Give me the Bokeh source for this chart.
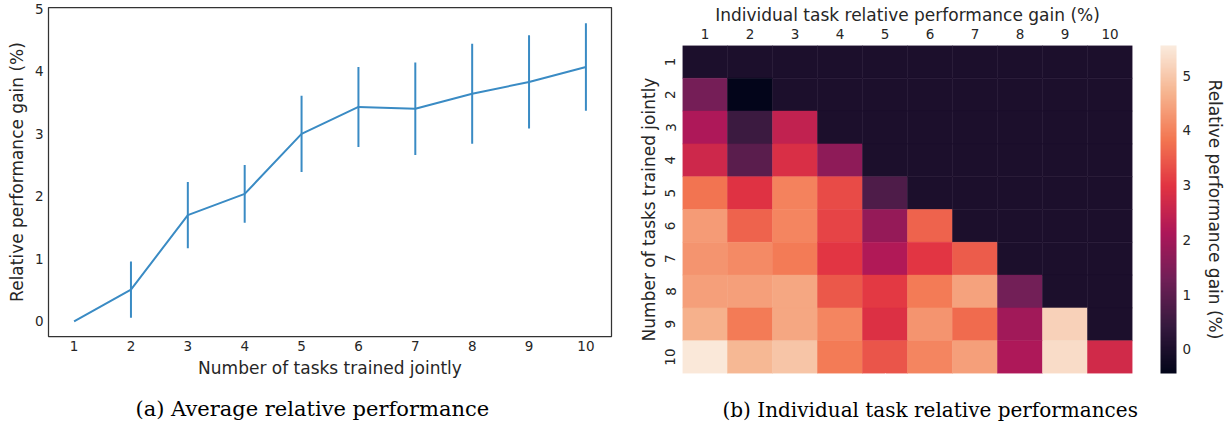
import numpy as np
from bokeh.plotting import figure
from bokeh.layouts import row
from bokeh.models import (Range1d, FixedTicker, LinearColorMapper, ColorBar,
                          LinearAxis, Title, ColumnDataSource)
from bokeh.transform import transform
from bokeh.embed import file_html
from bokeh.resources import INLINE

# ---------------- data ----------------
n_tasks = [1, 2, 3, 4, 5, 6, 7, 8, 9, 10]
avg_gain = [0.0, 0.51, 1.70, 2.04, 3.00, 3.43, 3.40, 3.64, 3.83, 4.07]
avg_err = [0.0, 0.45, 0.53, 0.46, 0.61, 0.64, 0.74, 0.80, 0.745, 0.70]

task_labels = [1, 2, 3, 4, 5, 6, 7, 8, 9, 10]
# rows: number of tasks trained jointly (1..10); columns: individual task (1..10)
gain_matrix = [
    [0.00, 0.00, 0.00, 0.00, 0.00, 0.00, 0.00, 0.00, 0.00, 0.00],
    [1.35, -0.44, 0.00, 0.00, 0.00, 0.00, 0.00, 0.00, 0.00, 0.00],
    [2.15, 0.50, 2.45, 0.00, 0.00, 0.00, 0.00, 0.00, 0.00, 0.00],
    [2.65, 0.95, 2.85, 1.70, 0.00, 0.00, 0.00, 0.00, 0.00, 0.00],
    [3.80, 2.95, 4.00, 3.30, 0.80, 0.00, 0.00, 0.00, 0.00, 0.00],
    [4.35, 3.60, 4.05, 3.20, 1.80, 3.60, 0.00, 0.00, 0.00, 0.00],
    [4.25, 4.10, 3.90, 3.00, 2.20, 3.00, 3.50, 0.00, 0.00, 0.00],
    [4.40, 4.40, 4.50, 3.45, 3.05, 3.90, 4.45, 1.30, 0.00, 0.00],
    [4.65, 3.90, 4.50, 4.05, 2.90, 4.25, 3.70, 1.96, 5.15, 0.00],
    [5.50, 4.75, 4.95, 3.90, 3.40, 4.05, 4.40, 2.15, 5.30, 2.70],
]
cbar_ticks = [0, 1, 2, 3, 4, 5]
cbar_low, cbar_high = -0.44, 5.55

# ---------------- style ----------------
TEXT = "#262626"
BLUE = "#3a8bc4"
FONT = "DejaVu Sans"
CAPFONT = "DejaVu Serif"

# rocket-like palette
stops = ["#03051a", "#35193e", "#701f57", "#ad1759", "#e13342", "#f37651", "#f6b48f", "#faebdd"]
stop_pos = np.linspace(0, 1, len(stops))
stop_rgb = np.array([[int(s[i:i + 2], 16) for i in (1, 3, 5)] for s in stops], dtype=float)
tt = np.linspace(0, 1, 256)
rocket = []
for t in tt:
    rgb = [np.interp(t, stop_pos, stop_rgb[:, k]) for k in range(3)]
    rocket.append("#%02x%02x%02x" % tuple(int(round(c)) for c in rgb))


def style_axis(ax):
    ax.axis_line_color = None
    ax.major_tick_line_color = None
    ax.minor_tick_line_color = None
    ax.major_tick_out = 0
    ax.major_tick_in = 0
    ax.major_label_text_font = FONT
    ax.major_label_text_font_size = "13.5px"
    ax.major_label_text_color = TEXT
    ax.axis_label_text_font = FONT
    ax.axis_label_text_font_size = "17px"
    ax.axis_label_text_font_style = "normal"
    ax.axis_label_text_color = TEXT


def spacer_axis(size, at):
    # a blank axis (one white tick, empty label) used only to reserve room below the plot
    return LinearAxis(ticker=FixedTicker(ticks=[at]), major_label_overrides={at: ""},
                      axis_label=None, axis_line_color=None,
                      major_tick_line_color="white", major_tick_line_width=1,
                      minor_tick_line_color=None, major_tick_out=size, major_tick_in=0,
                      minor_tick_out=0, minor_tick_in=0, major_label_standoff=0,
                      major_label_text_font_size="1px")


# ---------------- left: average ----------------
pA = figure(width=630, height=429, x_range=Range1d(0.55, 10.45), y_range=Range1d(-0.24, 5.02),
            output_backend="svg", toolbar_location=None,
            min_border_left=48, min_border_right=19, min_border_top=7, min_border_bottom=93)
pA.grid.visible = False
pA.outline_line_color = "#333333"
pA.outline_line_width = 1.25

lower = [g - e for g, e in zip(avg_gain, avg_err)]
upper = [g + e for g, e in zip(avg_gain, avg_err)]
pA.segment(x0=n_tasks, y0=lower, x1=n_tasks, y1=upper, line_color=BLUE, line_width=2)
pA.line(n_tasks, avg_gain, line_color=BLUE, line_width=2)

style_axis(pA.xaxis[0])
style_axis(pA.yaxis[0])
pA.xaxis.ticker = FixedTicker(ticks=n_tasks)
pA.yaxis.ticker = FixedTicker(ticks=[0, 1, 2, 3, 4, 5])
pA.xaxis.axis_label = "Number of tasks trained jointly"
pA.yaxis.axis_label = "Relative performance gain (%)"
pA.xaxis.major_label_standoff = 4
pA.xaxis.axis_label_standoff = 4
pA.yaxis.major_label_standoff = 5
pA.yaxis.axis_label_standoff = 5

pA.add_layout(spacer_axis(14, 5), "below")
pA.add_layout(Title(text="(a) Average relative performance", align="left", offset=87,
                    text_font=CAPFONT, text_font_size="21px", text_font_style="normal",
                    text_color="black", standoff=0), "below")

# ---------------- right: heatmap ----------------
xs, ys, vs = [], [], []
for i, r in enumerate(task_labels):
    for j, c in enumerate(task_labels):
        xs.append(c)
        ys.append(r)
        vs.append(gain_matrix[i][j])
src = ColumnDataSource(dict(x=xs, y=ys, v=vs))
mapper = LinearColorMapper(palette=rocket, low=cbar_low, high=cbar_high)

pB = figure(width=598, height=429, x_range=Range1d(0.5, 10.5), y_range=Range1d(10.5, 0.5),
            x_axis_location="above", output_backend="svg", toolbar_location=None,
            min_border_left=52, min_border_right=96, min_border_top=45, min_border_bottom=56)
pB.grid.visible = False
pB.outline_line_color = None
pB.rect(x="x", y="y", width=1, height=1, source=src,
        fill_color=transform("v", mapper), line_color=transform("v", mapper), line_width=0.5)

style_axis(pB.xaxis[0])
style_axis(pB.yaxis[0])
pB.xaxis.ticker = FixedTicker(ticks=task_labels)
pB.yaxis.ticker = FixedTicker(ticks=task_labels)
pB.xaxis.axis_label = "Individual task relative performance gain (%)"
pB.yaxis.axis_label = "Number of tasks trained jointly"
pB.yaxis.major_label_orientation = "vertical"
pB.xaxis.major_label_standoff = 7
pB.xaxis.axis_label_standoff = 1
pB.yaxis.major_label_standoff = 7
pB.yaxis.axis_label_standoff = 4

cbar = ColorBar(color_mapper=mapper, ticker=FixedTicker(ticks=cbar_ticks), width=16, height=328,
                margin=0, padding=0, location=(28, 0), label_standoff=6,
                major_label_text_font=FONT, major_label_text_font_size="13.5px",
                major_label_text_color=TEXT, major_tick_line_color=None, minor_tick_line_color=None,
                bar_line_color=None, border_line_color=None, background_fill_color=None)
pB.add_layout(cbar, "right")

cb_axis = LinearAxis(axis_label="Relative performance gain (%)", ticker=FixedTicker(ticks=[]),
                     axis_line_color=None, major_tick_line_color=None, minor_tick_line_color=None,
                     major_label_text_font_size="0px", axis_label_text_font=FONT,
                     axis_label_text_font_size="17px", axis_label_text_font_style="normal",
                     axis_label_text_color=TEXT, axis_label_standoff=10)
pB.add_layout(cb_axis, "right")

pB.add_layout(spacer_axis(22, 5), "below")
pB.add_layout(Title(text="(b) Individual task relative performances", align="left", offset=40,
                    text_font=CAPFONT, text_font_size="20px", text_font_style="normal",
                    text_color="black", standoff=0), "below")

for p in (pA, pB):
    if "frame_align" in p.properties():
        p.frame_align = False

layout = row(pA, pB)
open("out.html", "w").write(file_html(layout, INLINE))
